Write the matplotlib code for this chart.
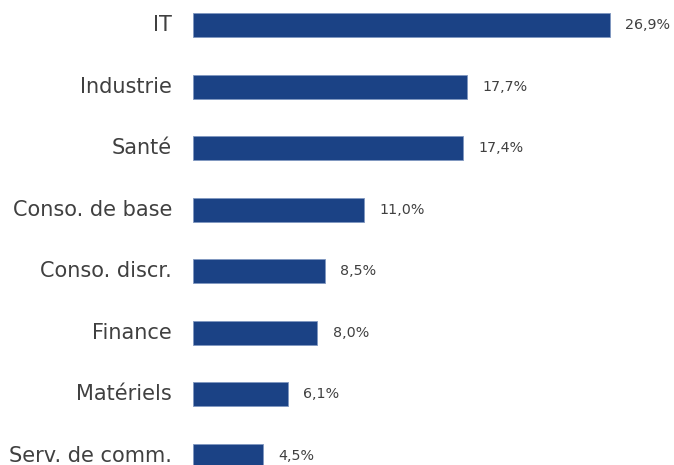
import matplotlib
matplotlib.use("Agg")
import matplotlib.pyplot as plt

sectors = ["IT", "Industrie", "Santé", "Conso. de base", "Conso. discr.",
           "Finance", "Matériels", "Serv. de comm."]
weights = [26.9, 17.7, 17.4, 11.0, 8.5, 8.0, 6.1, 4.5]
value_labels = ["26,9%", "17,7%", "17,4%", "11,0%", "8,5%", "8,0%", "6,1%", "4,5%"]

bar_color = "#1B4285"
text_color = "#404040"

plt.rcParams["font.family"] = ["DejaVu Sans"]

fig = plt.figure(figsize=(6.74, 4.65), dpi=100)
ax = fig.add_axes([193 / 674, 0, 481 / 674, 1])

pos = list(range(len(sectors)))
ax.barh(pos, weights, height=0.39, color=bar_color, edgecolor="#7f97c0", linewidth=0.6)

for p, w, lab in zip(pos, weights, value_labels):
    ax.text(w + 1.0, p, lab, va="center", ha="left", fontsize=10.3, color=text_color)

for p, name in zip(pos, sectors):
    ax.text(-1.35, p, name, va="center", ha="right", fontsize=15, color=text_color)

ax.set_xlim(0, 481 / 15.5)
ax.set_ylim(7.146, -0.406)
ax.axis("off")

fig.savefig("out.png", dpi=100)
